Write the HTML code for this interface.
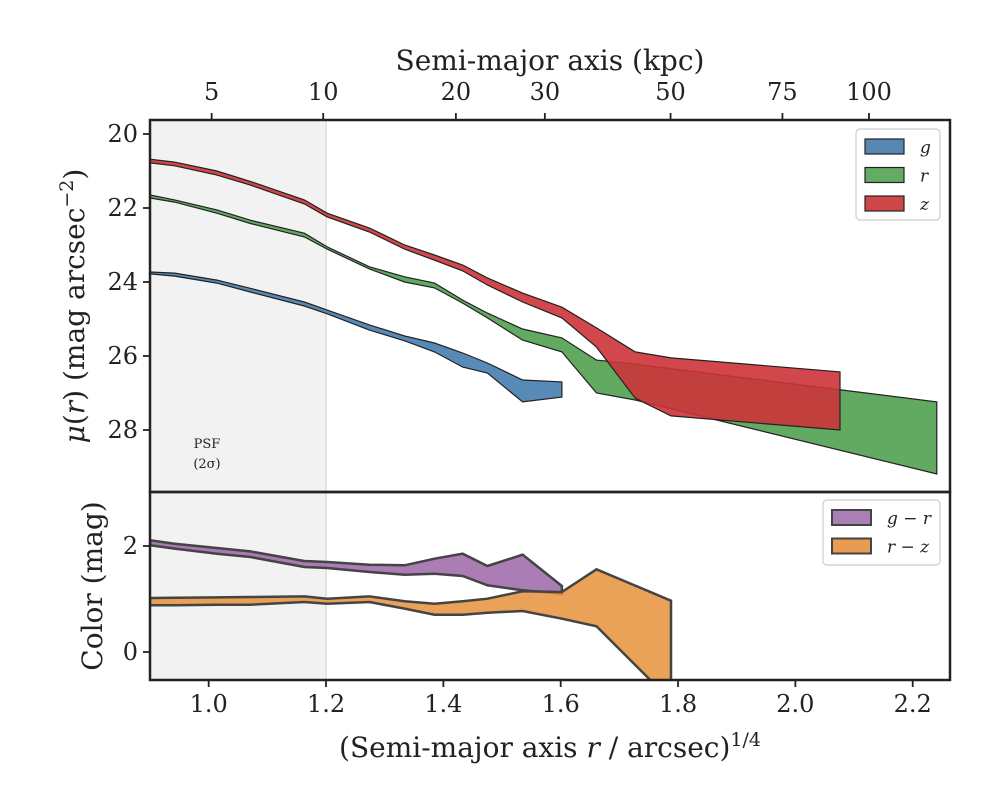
<!DOCTYPE html>
<html><head><meta charset="utf-8"><style>
body{margin:0;background:#fff;}
svg text{font-family:"DejaVu Serif","Liberation Serif",serif;fill:#222;}
</style></head><body>
<svg id="chart" width="1000" height="800" viewBox="0 0 1000 800" xmlns="http://www.w3.org/2000/svg"></svg>
<script>
// ---- data ----
const xG = [0.900,0.942,1.014,1.071,1.163,1.202,1.274,1.334,1.385,1.433,1.475,1.535,1.602];
const gHi = [23.73,23.76,23.95,24.17,24.54,24.76,25.16,25.46,25.65,25.92,26.19,26.65,26.70];
const gLo = [23.78,23.84,24.03,24.27,24.65,24.86,25.30,25.59,25.89,26.30,26.46,27.24,27.11];
const xR = [0.900,0.942,1.014,1.071,1.163,1.202,1.274,1.334,1.385,1.433,1.475,1.535,1.602,1.661,1.727,2.241];
const rHi = [21.65,21.78,22.05,22.33,22.68,23.05,23.59,23.86,24.03,24.49,24.84,25.27,25.51,26.11,26.22,27.24];
const rLo = [21.73,21.84,22.14,22.42,22.78,23.11,23.65,24.00,24.16,24.57,24.97,25.57,25.89,27.00,27.19,29.19];
const xZ = [0.900,0.942,1.014,1.071,1.163,1.202,1.274,1.334,1.385,1.433,1.475,1.535,1.602,1.661,1.727,1.788,2.076];
const zHi = [20.68,20.76,21.00,21.28,21.78,22.14,22.54,23.00,23.27,23.54,23.89,24.30,24.68,25.24,25.89,26.05,26.43];
const zLo = [20.78,20.86,21.11,21.38,21.89,22.24,22.65,23.11,23.41,23.70,24.08,24.54,24.97,25.76,27.14,27.62,28.00];
const xGR = [0.900,0.942,1.014,1.071,1.163,1.202,1.274,1.334,1.385,1.433,1.475,1.535,1.602];
const grHi = [2.107,2.044,1.962,1.899,1.717,1.698,1.648,1.635,1.761,1.855,1.623,1.836,1.245];
const grLo = [2.013,1.950,1.855,1.792,1.604,1.585,1.509,1.459,1.478,1.434,1.258,1.164,1.101];
const xRZ = [0.900,0.942,1.014,1.071,1.163,1.202,1.274,1.334,1.385,1.433,1.475,1.535,1.602,1.661,1.788];
const rzHi = [1.019,1.025,1.031,1.038,1.050,1.006,1.050,0.956,0.912,0.956,1.006,1.145,1.132,1.560,0.968];
const rzLo = [0.881,0.881,0.893,0.893,0.943,0.912,0.943,0.818,0.704,0.704,0.742,0.774,0.629,0.484,-0.918];
const xTicks = [1.0,1.2,1.4,1.6,1.8,2.0,2.2];
const kpcTicks = [5,10,20,30,50,75,100];
const muTicks = [20,22,24,26,28];
const colTicks = [0,2];
const kpcPerArcsec = 4.9;

// ---- scales ----
const L=150,R=950,T1=120,B1=492,B2=680;
const X = v => L + (v-0.9)*586.7;
const Y1 = v => 134 + (v-20)*37;
const Y2 = v => 546 - (v-2)*53;
const NS="http://www.w3.org/2000/svg";
const svg=document.getElementById('chart');
function el(tag,attrs,parent){const e=document.createElementNS(NS,tag);for(const k in attrs)e.setAttribute(k,attrs[k]);(parent||svg).appendChild(e);return e;}
function txt(s,attrs,parent){const t=el('text',attrs,parent);t.textContent=s;return t;}

const defs=el('defs',{});
const c1=el('clipPath',{id:'c1'},defs);el('rect',{x:L,y:T1,width:R-L,height:B1-T1},c1);
const c2=el('clipPath',{id:'c2'},defs);el('rect',{x:L,y:B1,width:R-L,height:B2-B1},c2);

// PSF band
const band=el('rect',{x:L,y:T1,width:X(1.2)-L,height:B2-T1,fill:'#f2f2f2'});


el('line',{x1:X(1.2),x2:X(1.2),y1:T1,y2:B2,stroke:'#e4e4e4','stroke-width':2});

function band2(xs,hi,lo,Y,fill,stroke,sw,clip,name,op){
  let pts=xs.map((x,i)=>X(x).toFixed(1)+','+Y(hi[i]).toFixed(1));
  for(let i=xs.length-1;i>=0;i--)pts.push(X(xs[i]).toFixed(1)+','+Y(lo[i]).toFixed(1));
  const p=el('polygon',{points:pts.join(' '),fill:fill,'fill-opacity':op,stroke:stroke,'stroke-width':sw,'stroke-linejoin':'miter','clip-path':'url(#'+clip+')'});
  
  
}
band2(xG,gHi,gLo,Y1,'#4f84b3','#222',1.2,'c1','g-band',0.95);
band2(xR,rHi,rLo,Y1,'#5aa45a','#222',1.2,'c1','r-band',0.95);
band2(xZ,zHi,zLo,Y1,'#cc3338','#222',1.2,'c1','z-band',0.9);
band2(xGR,grHi,grLo,Y2,'#9d65a8','#444',2.5,'c2','g-r-band',0.85);
band2(xRZ,rzHi,rzLo,Y2,'#e58a2e','#444',2.5,'c2','r-z-band',0.8);

// frames
el('rect',{x:L,y:T1,width:R-L,height:B1-T1,fill:'none',stroke:'#222','stroke-width':2.5});
el('rect',{x:L,y:B1,width:R-L,height:B2-B1,fill:'none',stroke:'#222','stroke-width':2.5});

// ticks
xTicks.forEach(v=>{el('line',{x1:X(v),x2:X(v),y1:B2,y2:B2+7,stroke:'#222','stroke-width':1.8});
  const t=txt(v.toFixed(1),{x:X(v),y:B2+32,'font-size':24,'text-anchor':'middle'});
  
  });
kpcTicks.forEach(k=>{const x=X(Math.pow(k/kpcPerArcsec,0.25));
  el('line',{x1:x,x2:x,y1:T1,y2:T1-7,stroke:'#222','stroke-width':1.8});
  const t=txt(String(k),{x:x,y:T1-20,'font-size':24,'text-anchor':'middle'});
  
  });
muTicks.forEach(v=>{el('line',{x1:L,x2:L-7,y1:Y1(v),y2:Y1(v),stroke:'#222','stroke-width':1.8});
  const t=txt(String(v),{x:L-12,y:Y1(v)+8,'font-size':24,'text-anchor':'end'});
  
  });
colTicks.forEach(v=>{el('line',{x1:L,x2:L-7,y1:Y2(v),y2:Y2(v),stroke:'#222','stroke-width':1.8});
  const t=txt(String(v),{x:L-12,y:Y2(v)+8,'font-size':24,'text-anchor':'end'});
  
  });

// axis titles
const xt=txt('',{x:550,y:757,'font-size':28,'text-anchor':'middle'});
xt.innerHTML='(Semi-major axis <tspan font-style="italic">r</tspan> / arcsec)<tspan dy="-11" font-size="19">1/4</tspan>';


const tt=txt('Semi-major axis (kpc)',{x:550,y:70,'font-size':28,'text-anchor':'middle'});


const yt=txt('',{x:0,y:0,'font-size':28,'text-anchor':'middle',transform:'translate(84,306) rotate(-90)'});
yt.innerHTML='<tspan font-style="italic">μ</tspan>(<tspan font-style="italic">r</tspan>) (mag arcsec<tspan dy="-11" font-size="19">−2</tspan><tspan dy="11">)</tspan>';


const yt2=txt('Color (mag)',{x:0,y:0,'font-size':28,'text-anchor':'middle',transform:'translate(102,586) rotate(-90)'});



const p1=txt('PSF',{x:207,y:448,'font-size':13,'text-anchor':'middle'});


const p2=txt('(2σ)',{x:207,y:468,'font-size':13,'text-anchor':'middle'});



// legends
function legend(x,y,w,h,items,name){
  const g=el('g',{});
  
  
  el('rect',{x:x,y:y,width:w,height:h,rx:4,fill:'#fff',stroke:'#ccc','stroke-width':1.2},g);
  items.forEach((it,i)=>{const yy=y+10+i*28.5;
    const e=el('g',{},g);
    
    
    el('rect',{x:x+9,y:yy,width:39,height:15,fill:it[1],stroke:it[2],'stroke-width':it[3]},e);
    txt(it[0],{x:x+64,y:yy+14,'font-size':17,'font-style':'italic','font-family':'"DejaVu Sans",sans-serif'},e);
  });
}
legend(856,129,84,91,[['g','#5788b4','#222',1.2],['r','#64ab63','#222',1.2],['z','#d0474a','#222',1.2]],'legend-top');
legend(823,500,117,65,[['g − r','#aa80b4','#444',2],['r − z','#e89c52','#444',2]],'legend-bottom');
</script>
</body></html>
